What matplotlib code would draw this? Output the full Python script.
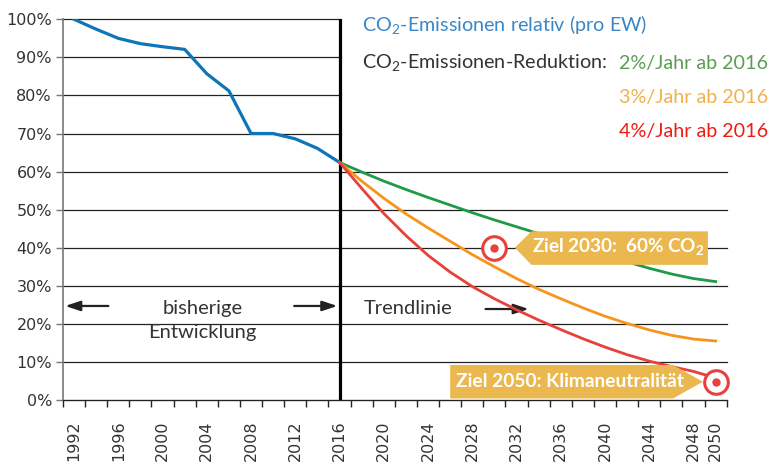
import matplotlib
matplotlib.use("Agg")
import matplotlib.pyplot as plt
from matplotlib.patches import Polygon

# historical CO2 emissions per inhabitant, 1992 = 100 %
years_hist = [1992, 1994, 1996, 1998, 2000, 2002, 2004, 2006, 2008, 2010, 2012, 2014, 2016]
co2_hist = [100.0, 97.4, 95.0, 93.6, 92.8, 92.1, 85.7, 81.2, 70.0, 70.0, 68.6, 66.1, 62.4]

# trend lines from 2016
years_trend = [2016, 2018, 2020, 2022, 2024, 2026, 2028, 2030, 2032, 2034,
               2036, 2038, 2040, 2042, 2044, 2046, 2048, 2050]
trend_2 = [62.4, 59.9, 57.5, 55.3, 53.2, 51.2, 49.2, 47.3, 45.5, 43.7,
           41.9, 40.0, 38.1, 36.3, 34.6, 33.1, 31.9, 31.1]
trend_3 = [62.4, 57.5, 53.0, 48.9, 45.2, 41.7, 38.2, 35.0, 31.9, 29.1,
           26.6, 24.2, 22.0, 20.1, 18.4, 17.0, 16.0, 15.5]
trend_4 = [62.4, 55.6, 49.0, 43.2, 38.0, 33.6, 29.8, 26.6, 23.7, 21.0,
           18.5, 16.1, 13.9, 11.9, 10.2, 8.8, 7.5, 5.8]

ziel_2030 = (2030, 40)
ziel_2050 = (2050, 4.8)

label_years = list(range(1992, 2049, 4)) + [2050]
y_ticks = list(range(0, 101, 10))

BLUE = "#0e75b8"
GREEN = "#1f9a48"
ORANGE = "#f7941d"
RED = "#e8403a"
GOLD = "#ebb84f"
TXT = "#333333"

plt.rcParams["font.family"] = ["DejaVu Sans"]

fig = plt.figure(figsize=(7.7, 4.62), dpi=100)
ax = fig.add_axes([63 / 770, 1 - 400 / 462, (726.7 - 63) / 770, (400 - 19.3) / 462])

ax.set_xlim(1991, 2051)
ax.set_ylim(0, 100)

# grid: above 60 % only left of the 2016 line
for v in y_ticks:
    x_end = 2051 if v <= 60 else 2016
    ax.plot([1991, x_end], [v, v], color="#222222", lw=0.9, zorder=1, clip_on=False)

ax.plot([2016, 2016], [0, 100], color="black", lw=2.3, zorder=3)

ax.plot(years_hist, co2_hist, color=BLUE, lw=2.3, zorder=4, solid_joinstyle="round")
ax.plot(years_trend, trend_2, color=GREEN, lw=2.0, zorder=4)
ax.plot(years_trend, trend_3, color=ORANGE, lw=2.0, zorder=4)
ax.plot(years_trend, trend_4, color=RED, lw=2.0, zorder=4)

# ticks
ax.set_yticks(y_ticks)
ax.set_yticklabels([f"{v}%" for v in y_ticks])
ax.tick_params(axis="y", length=5, width=1, color="#777777", labelsize=11.5,
               labelcolor=TXT, pad=3)
ax.set_xticks(label_years)
ax.set_xticklabels([str(y) for y in label_years], rotation=90, va="top")
ax.set_xticks(list(range(1991, 2052, 2)), minor=True)
ax.tick_params(axis="x", which="major", length=0, pad=15, labelsize=11.5, labelcolor=TXT)
ax.tick_params(axis="x", which="minor", length=5, width=1, color="#222222")

for s in ["top", "right"]:
    ax.spines[s].set_visible(False)
ax.spines["left"].set_color("#777777")
ax.spines["left"].set_linewidth(1.2)
ax.spines["bottom"].set_color("#222222")

# legend texts
lfont = dict(family="Lato", fontsize=14.2)
fig.text(362 / 770, 1 - 25 / 462, "CO$_\\mathregular{2}$-Emissionen relativ (pro EW)",
         color="#3a86c6", va="center", **lfont)
fig.text(362 / 770, 1 - 63 / 462, "CO$_\\mathregular{2}$-Emissionen-Reduktion:",
         color=TXT, va="center", **lfont)
fig.text(619 / 770, 1 - 63 / 462, "2%/Jahr ab 2016", color="#5a9e52", va="center", **lfont)
fig.text(619 / 770, 1 - 98 / 462, "3%/Jahr ab 2016", color="#f0b24e", va="center", **lfont)
fig.text(619 / 770, 1 - 131 / 462, "4%/Jahr ab 2016", color="#f01c14", va="center", **lfont)

# region texts and arrows
tfont = dict(family="Lato", fontsize=14.5, color=TXT, va="center")
ax.text(2003.6, 24.1, "bisherige", ha="center", **tfont)
ax.text(2003.6, 17.6, "Entwicklung", ha="center", **tfont)
ax.text(2018.2, 24.0, "Trendlinie", ha="left", **tfont)
arrow = dict(arrowstyle="-|>,head_length=0.9,head_width=0.3", color="#222222", lw=1.6,
             shrinkA=0, shrinkB=0)
ax.annotate("", xy=(1991.2, 24.7), xytext=(1995.1, 24.7), arrowprops=arrow)
ax.annotate("", xy=(2015.8, 24.7), xytext=(2011.9, 24.7), arrowprops=arrow)
ax.annotate("", xy=(2033.1, 23.9), xytext=(2029.2, 23.9), arrowprops=arrow)

# goal tags
x0, y0 = ziel_2030
tag1 = Polygon([(x0 + 1.85, y0), (x0 + 3.35, y0 + 4.3), (x0 + 19.3, y0 + 4.3),
                (x0 + 19.3, y0 - 4.5), (x0 + 3.35, y0 - 4.5)],
               closed=True, facecolor=GOLD, edgecolor="none", zorder=6)
ax.add_patch(tag1)
ax.text(x0 + 3.4, y0, "Ziel 2030:  60% CO$_\\mathregular{2}$", color="white",
        family="Lato", fontweight="bold", fontsize=13.6, va="center", ha="left", zorder=7)

x1, y1 = ziel_2050
tag2 = Polygon([(x1 - 24.0, y1 + 4.4), (x1 - 3.85, y1 + 4.4), (x1 - 1.15, y1),
                (x1 - 3.85, y1 - 4.4), (x1 - 24.0, y1 - 4.4)],
               closed=True, facecolor=GOLD, edgecolor="none", zorder=6)
ax.add_patch(tag2)
ax.text(x1 - 23.5, y1, "Ziel 2050: Klimaneutralität", color="white",
        family="Lato", fontweight="bold", fontsize=13.8, va="center", ha="left", zorder=7)

for (gx, gy) in [ziel_2030, ziel_2050]:
    ax.plot(gx, gy, "o", ms=17, mfc="white", mec=RED, mew=2.2, zorder=8, clip_on=False)
    ax.plot(gx, gy, "o", ms=6, mfc=RED, mec="none", zorder=9, clip_on=False)

fig.savefig("out.png", dpi=100)
